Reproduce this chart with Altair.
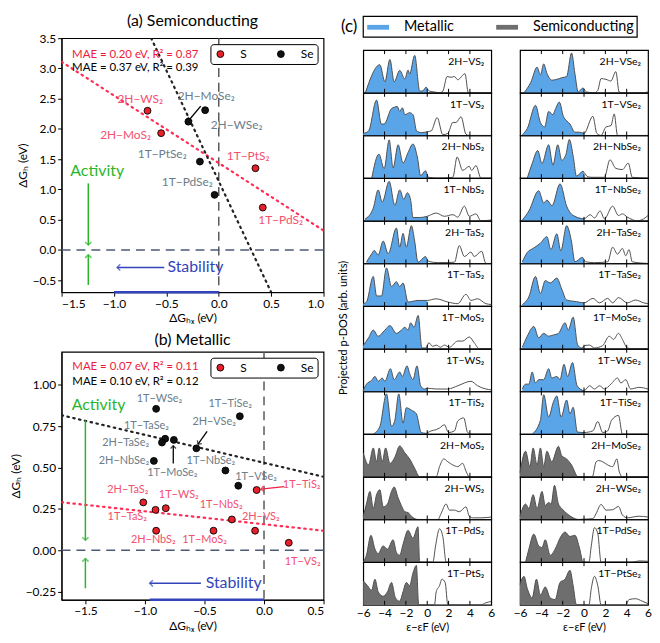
import altair as alt
import pandas as pd
import numpy as np

FONT = "Lato"
RED = "#e8202a"
RED_LBL = "#f2506e"
GRAY_LBL = "#6b7d8a"
MAE_RED = "#ee1a3c"
FIT_RED = "#ff2d55"
GREEN = "#2bb52b"
BLUE = "#3344bb"
FILL_MET = "#5aa5e8"
FILL_SEM = "#6e6e6e"
VPATH_UP = "M-1,1L0,0L1,1"

# ---------------- panel (a) Semiconducting ----------------
a_names = ["2H−WS₂", "2H−MoS₂", "1T−PtS₂", "1T−PdS₂", "2H−MoSe₂", "2H−WSe₂", "1T−PtSe₂", "1T−PdSe₂"]
a_elem = ["S", "S", "S", "S", "Se", "Se", "Se", "Se"]
a_dGHX = [-0.68, -0.55, 0.35, 0.42, -0.29, -0.13, -0.18, -0.04]
a_dGH = [2.30, 1.93, 1.35, 0.70, 2.12, 2.31, 1.46, 0.91]
a_lab_x = [-0.75, -0.89, 0.28, 0.59, -0.12, 0.17, -0.54, -0.30]
a_lab_y = [2.50, 1.90, 1.56, 0.49, 2.55, 2.06, 1.58, 1.13]
a_fit_S = ([-1.5, 1.0], [3.11, 0.32])
a_fit_Se = ([-0.645, 0.50], [3.5, -0.7])
a_mae = ["MAE = 0.20 eV, R² = 0.87", "MAE = 0.37 eV, R² = 0.39"]

# ---------------- panel (b) Metallic ----------------
b_names = ["1T−WSe₂", "1T−TiSe₂", "1T−TaSe₂", "2H−TaSe₂", "1T−MoSe₂", "2H−VSe₂", "2H−NbSe₂",
           "1T−NbSe₂", "1T−VSe₂", "1T−TiS₂", "2H−TaS₂", "1T−TaS₂", "1T−WS₂", "1T−NbS₂",
           "2H−VS₂", "2H−NbS₂", "1T−MoS₂", "1T−VS₂"]
b_elem = ["Se"] * 9 + ["S"] * 9
b_dGHX = [-0.906, -0.203, -0.83, -0.857, -0.757, -0.568, -0.925, -0.324, -0.216,
          -0.062, -1.014, -0.911, -0.825, -0.27, -0.075, -0.906, -0.424, 0.208]
b_dGH = [0.855, 0.81, 0.674, 0.651, 0.667, 0.616, 0.54, 0.482, 0.39,
         0.364, 0.289, 0.244, 0.254, 0.186, 0.118, 0.118, 0.118, 0.045]
b_lab_x = [-0.878, -0.284, -0.987, -1.162, -0.77, -0.419, -1.176, -0.446, -0.067,
           0.316, -1.144, -1.149, -0.716, -0.36, -0.027, -0.93, -0.50, 0.324]
b_lab_y = [0.913, 0.884, 0.754, 0.651, 0.467, 0.773, 0.539, 0.54, 0.444,
           0.394, 0.364, 0.20, 0.331, 0.273, 0.20, 0.06, 0.06, -0.072]
b_fit_S = ([-1.7, 0.5], [0.29, 0.118])
b_fit_Se = ([-1.7, 0.5], [0.816, 0.444])
b_mae = ["MAE = 0.07 eV, R² = 0.11", "MAE = 0.10 eV, R² = 0.12"]

# ---------------- panel (c) projected p-DOS ----------------
dos_names_S = ["2H−VS₂", "1T−VS₂", "2H−NbS₂", "1T−NbS₂", "2H−TaS₂", "1T−TaS₂", "1T−MoS₂",
               "1T−WS₂", "1T−TiS₂", "2H−MoS₂", "2H−WS₂", "1T−PdS₂", "1T−PtS₂"]
dos_names_Se = ["2H−VSe₂", "1T−VSe₂", "2H−NbSe₂", "1T−NbSe₂", "2H−TaSe₂", "1T−TaSe₂", "1T−MoSe₂",
                "1T−WSe₂", "1T−TiSe₂", "2H−MoSe₂", "2H−WSe₂", "1T−PdSe₂", "1T−PtSe₂"]
dos_kind = ["Metallic"] * 9 + ["Semiconducting"] * 4

dos_S = [
    [(-5.8, 0), (-4.44, 0.69), (-3.97, 0.27), (-3.5, 0.82), (-3.1, 0.27), (-2.58, 0.55), (-2.1, 0.34), (-1.8, 0.56),
     (-1.65, 0.46), (-1.18, 0.92), (-0.7, 0.04), (-0.4, 0.05), (-0.1, 0.14), (0.2, 0.04), (0.68, 0.02), (1.15, 0),
     (1.46, 0.04), (1.86, 0.40), (2.24, 0.38), (2.55, 0.40), (2.86, 0.32), (3.54, 0.47), (3.85, 0), (6, 0)],
    [(-6, 0.05), (-5.5, 0.11), (-4.75, 0.87), (-4.3, 0.28), (-4.04, 0.28), (-3.35, 0.66), (-2.8, 0.71), (-2.58, 0.59),
     (-2.33, 0.68), (-2.1, 0.51), (-1.65, 0.56), (-1.33, 0.51), (-1.0, 0.11), (-0.56, 0.07), (0, 0.09), (0.37, 0.11),
     (0.93, 0.44), (1.46, 0.02), (1.93, 0.05), (2.4, 0.32), (2.7, 0.32), (3.17, 0.46), (3.63, 0.03), (3.94, 0), (6, 0)],
    [(-5.2, 0), (-4.53, 0.59), (-4.04, 0.23), (-3.57, 0.94), (-3.2, 0.25), (-2.73, 0.82), (-2.27, 0.37), (-1.8, 0.63),
     (-1.34, 0.84), (-0.93, 0.52), (-0.62, 0.06), (-0.16, 0.18), (0.12, 0.02), (1.0, 0), (2.4, 0.02), (2.8, 0.52),
     (3.32, 0.19), (3.94, 0.29), (4.16, 0.19), (4.57, 0.31), (5.03, 0), (6, 0)],
    [(-5.84, 0.04), (-5.06, 0.31), (-4.6, 0.76), (-4.22, 0.46), (-3.57, 0.97), (-3.04, 0.38), (-2.58, 0.76),
     (-2.2, 0.53), (-1.86, 0.69), (-1.55, 0.50), (-1.34, 0.08), (-0.71, 0.08), (0, 0.11), (0.84, 0.19), (1.61, 0.11),
     (2.4, 0.15), (2.86, 0.09), (3.48, 0.36), (3.94, 0.11), (4.57, 0.17), (5.03, 0), (6, 0.02)],
    [(-5.7, 0.03), (-5.2, 0.24), (-4.97, 0.32), (-4.6, 0.21), (-4.13, 0.55), (-3.66, 0.24), (-2.89, 0.87),
     (-2.58, 0.40), (-2.27, 0.74), (-1.96, 0.40), (-1.49, 0.93), (-1.18, 0.55), (-0.87, 0.03), (-0.16, 0.17),
     (0.12, 0.05), (1.0, 0.02), (2.55, 0.03), (3.0, 0.44), (3.48, 0.17), (4.1, 0.28), (4.4, 0.17), (5.1, 0.30),
     (5.5, 0), (6, 0)],
    [(-6, 0.06), (-5.7, 0.10), (-5.06, 0.73), (-4.75, 0.25), (-4.29, 0.25), (-3.82, 0.94), (-3.35, 0.48),
     (-2.89, 0.60), (-2.58, 0.48), (-2.27, 0.57), (-1.8, 0.10), (-0.87, 0.14), (0, 0.14), (0.84, 0.18), (1.93, 0.10),
     (2.86, 0.06), (3.63, 0.29), (4.1, 0.14), (4.72, 0.18), (5.5, 0.06), (6, 0.04)],
    [(-6, 0.08), (-5.5, 0.27), (-5.06, 0.46), (-4.6, 0.31), (-3.97, 0.46), (-3.5, 0.57), (-2.89, 0.38), (-2.42, 0.46),
     (-2.1, 0.53), (-1.8, 0.46), (-1.55, 0.64), (-1.24, 0.53), (-0.85, 0.82), (-0.5, 0.02), (-0.1, 0.02), (0.15, 0.15),
     (0.5, 0.06), (0.84, 0.09), (1.24, 0.04), (1.61, 0.09), (2.08, 0.04), (2.86, 0.19), (3.32, 0.19), (3.94, 0.29),
     (4.4, 0.15), (4.88, 0), (6, 0)],
    [(-6, 0.02), (-5.7, 0.18), (-5.22, 0.27), (-4.9, 0.37), (-4.6, 0.25), (-4.22, 0.33), (-3.97, 0.25), (-3.45, 0.56),
     (-3.1, 0.29), (-2.58, 0.48), (-2.33, 0.37), (-1.9, 0.63), (-1.65, 0.44), (-1.34, 0.29), (-0.96, 0.63),
     (-0.62, 0.14), (-0.25, 0.06), (0, 0.08), (0.84, 0.06), (1.93, 0.06), (2.86, 0.14), (4.1, 0.25), (4.72, 0.14),
     (5.5, 0.06), (6, 0.04)],
    [(-5.06, 0), (-4.44, 0.19), (-3.82, 0.99), (-3.35, 0.19), (-3.04, 0.34), (-2.67, 0.99), (-2.27, 0.27),
     (-1.96, 0.65), (-1.49, 0.59), (-1.02, 0.50), (-0.56, 0.04), (-0.1, 0.02), (0.37, 0.08), (0.84, 0.11),
     (1.15, 0.15), (1.61, 0.23), (1.99, 0.04), (2.55, 0.08), (2.86, 0.32), (3.42, 0.40), (3.79, 0.04), (4.25, 0),
     (6, 0)],
    [(-6, 0.59), (-5.5, 0.29), (-5.06, 0.71), (-4.75, 0.37), (-4.5, 0.71), (-4.22, 0.37), (-3.9, 0.71), (-3.5, 0.33),
     (-3.04, 0.48), (-2.58, 0.76), (-2.1, 0.59), (-1.65, 0.44), (-1.18, 0.21), (-0.71, 0), (0.84, 0), (1.15, 0.25),
     (1.55, 0.44), (1.93, 0.37), (2.4, 0.29), (2.86, 0.25), (3.32, 0.33), (3.63, 0.14), (3.94, 0), (6, 0)],
    [(-6, 0.08), (-5.7, 0.38), (-5.37, 0.69), (-5.06, 0.27), (-4.75, 0.61), (-4.44, 0.73), (-4.13, 0.31),
     (-3.73, 0.38), (-3.35, 0.69), (-3.1, 0.80), (-2.73, 0.53), (-2.42, 0.34), (-2.1, 0.19), (-1.8, 0.17),
     (-1.49, 0.08), (-0.87, 0), (1.0, 0), (1.3, 0.15), (1.77, 0.38), (2.08, 0.23), (2.55, 0.23), (3.0, 0.19),
     (3.63, 0.31), (3.94, 0.08), (4.25, 0.04), (5.03, 0.04), (6, 0.06)],
    [(-6, 0), (-5.7, 0.17), (-5.28, 0.66), (-4.9, 0.32), (-4.6, 0.21), (-4.13, 0.40), (-3.73, 0.32), (-3.2, 0.55),
     (-2.89, 0.24), (-2.58, 0.17), (-2.27, 0.44), (-1.8, 0.78), (-1.34, 0.59), (-0.87, 0.87), (-0.71, 0), (0.53, 0),
     (0.78, 0.40), (1.15, 0.82), (1.46, 0.63), (1.77, 0), (6, 0)],
    [(-6, 0.59), (-5.6, 0.47), (-5.22, 0.36), (-4.9, 0.63), (-4.6, 0.32), (-4.13, 0.21), (-3.73, 0.32), (-3.35, 0.55),
     (-2.98, 0.17), (-2.58, 0.09), (-2.27, 0.32), (-1.96, 0.55), (-1.65, 0.47), (-1.34, 0.78), (-1.02, 0.97),
     (-0.8, 0), (0.68, 0), (0.84, 0.32), (1.15, 0.47), (1.37, 0.63), (1.68, 0.55), (1.93, 0), (5.03, 0),
     (5.5, 0.05), (6, 0.08)],
]

dos_Se = [
    [(-5.63, 0), (-5.0, 0.25), (-4.4, 0.63), (-4.09, 0.44), (-3.78, 0.71), (-3.48, 0.48), (-3.0, 0.31), (-2.55, 0.33),
     (-2.09, 0.37), (-1.63, 0.40), (-1.17, 0.98), (-0.86, 0.48), (-0.55, 0.02), (-0.09, 0.12), (0.22, 0.02),
     (0.98, 0), (1.29, 0.06), (1.6, 0.35), (2.06, 0.33), (2.52, 0.29), (2.98, 0.52), (3.29, 0.02), (3.6, 0),
     (5.5, 0), (6, 0.02)],
    [(-5.78, 0.02), (-5.32, 0.17), (-4.55, 0.74), (-4.09, 0.32), (-3.69, 0.21), (-3.32, 0.59), (-2.92, 0.51),
     (-2.71, 0.63), (-2.31, 0.82), (-1.94, 0.47), (-1.63, 0.36), (-1.32, 0.28), (-0.86, 0.08), (-0.4, 0.08),
     (0, 0.05), (0.83, 0.47), (1.2, 0.05), (1.6, 0), (2.06, 0.21), (2.52, 0.24), (2.83, 0.53), (3.14, 0), (6, 0)],
    [(-5.32, 0), (-4.86, 0.36), (-4.34, 0.68), (-3.94, 0.36), (-3.32, 0.82), (-2.92, 0.32), (-2.46, 0.82),
     (-2.09, 0.44), (-1.69, 0.59), (-1.38, 0.95), (-1.0, 0.51), (-0.71, 0.05), (-0.09, 0.17), (0.37, 0.03),
     (0.83, 0.02), (1.91, 0.02), (2.43, 0.45), (2.98, 0.24), (3.6, 0.21), (4.15, 0.37), (4.52, 0.02), (6, 0)],
    [(-5.78, 0.02), (-5.17, 0.24), (-4.25, 0.74), (-3.78, 0.44), (-3.48, 0.51), (-3.0, 0.37), (-2.25, 0.91),
     (-1.63, 0.36), (-1.0, 0.13), (0, 0.05), (0.58, 0.15), (0.98, 0.07), (1.51, 0.24), (1.91, 0.05), (2.68, 0.36),
     (3.23, 0.13), (3.6, 0.17), (4.06, 0.09), (4.98, 0), (5.6, 0.05), (6, 0.13)],
    [(-5.78, 0.04), (-5.32, 0.27), (-4.71, 0.38), (-4.09, 0.50), (-3.48, 0.66), (-3.11, 0.34), (-2.55, 0.73),
     (-2.18, 0.31), (-1.63, 0.93), (-1.17, 0.53), (-0.86, 0.04), (-0.15, 0.15), (0.15, 0.04), (0.98, 0.02),
     (2.22, 0.04), (2.68, 0.40), (3.14, 0.23), (3.6, 0.37), (3.91, 0.19), (4.22, 0.34), (4.52, 0.04), (6, 0)],
    [(-5.78, 0.04), (-5.17, 0.23), (-4.55, 0.73), (-4.09, 0.31), (-3.63, 0.63), (-3.17, 0.57), (-2.55, 0.69),
     (-2.09, 0.42), (-1.63, 0.15), (-0.71, 0.11), (0, 0.08), (0.83, 0.19), (1.45, 0.08), (2.22, 0.19), (2.68, 0.08),
     (3.23, 0.21), (4.06, 0.08), (4.83, 0.15), (5.6, 0.08), (6, 0.06)],
    [(-5.78, 0.04), (-5.32, 0.31), (-4.71, 0.55), (-4.25, 0.27), (-3.78, 0.38), (-3.32, 0.31), (-2.86, 0.34),
     (-2.4, 0.38), (-1.78, 0.64), (-1.48, 0.46), (-1.02, 0.78), (-0.6, 0.10), (-0.25, 0.02), (0.06, 0.08),
     (0.52, 0.09), (0.98, 0.02), (1.75, 0.08), (2.37, 0.31), (2.77, 0.23), (3.23, 0.38), (3.6, 0.23), (4.06, 0.02),
     (4.52, 0), (6, 0)],
    [(-5.78, 0.06), (-5.48, 0.18), (-5.17, 0.18), (-4.86, 0.48), (-4.55, 0.21), (-4.25, 0.29), (-3.78, 0.29),
     (-3.32, 0.56), (-3.02, 0.33), (-2.55, 0.37), (-2.25, 0.29), (-1.88, 0.67), (-1.54, 0.37), (-1.08, 0.71),
     (-0.65, 0.14), (0, 0.02), (0.52, 0.14), (0.98, 0.06), (1.45, 0.14), (1.91, 0.06), (2.52, 0.18), (3.14, 0.33),
     (3.45, 0.21), (3.91, 0.29), (4.37, 0.06), (5.14, 0.10), (6, 0.06)],
    [(-4.86, 0), (-4.09, 0.34), (-3.78, 0.97), (-3.32, 0.42), (-2.86, 0.80), (-2.55, 0.94), (-2.15, 0.42),
     (-1.63, 0.84), (-1.32, 0.50), (-1.02, 0.66), (-0.62, 0.05), (0, 0.04), (0.83, 0.08), (1.29, 0.31),
     (1.75, 0.04), (2.22, 0.08), (2.58, 0.34), (3.23, 0.46), (3.6, 0), (6, 0)],
    [(-6, 0.10), (-5.48, 0.63), (-5.08, 0.25), (-4.77, 0.71), (-4.4, 0.29), (-4.09, 0.71), (-3.78, 0.25),
     (-3.48, 0.63), (-3.02, 0.37), (-2.4, 0.75), (-2.09, 0.52), (-1.63, 0.44), (-1.17, 0.29), (-0.55, 0),
     (0.77, 0), (1.14, 0.37), (1.38, 0.40), (1.75, 0.37), (2.22, 0.29), (2.68, 0.25), (3.08, 0.44), (3.29, 0.14),
     (3.6, 0), (6, 0)],
    [(-6, 0.08), (-5.48, 0.38), (-5.17, 0.27), (-4.77, 0.61), (-4.4, 0.27), (-3.94, 0.69), (-3.63, 0.34),
     (-3.32, 0.42), (-3.08, 0.38), (-2.77, 0.84), (-2.4, 0.38), (-2.09, 0.27), (-1.63, 0.15), (-1.02, 0.04),
     (-0.5, 0), (0.83, 0.02), (1.14, 0.15), (1.6, 0.37), (2.06, 0.23), (2.68, 0.24), (3.23, 0.32), (3.6, 0.11),
     (4.06, 0.04), (5.14, 0.08), (6, 0.06)],
    [(-5.48, 0), (-5.17, 0.32), (-4.71, 0.69), (-4.25, 0.40), (-3.94, 0.36), (-3.63, 0.55), (-3.17, 0.17),
     (-2.71, 0.32), (-2.25, 0.59), (-1.78, 0.74), (-1.32, 0.63), (-0.86, 0.66), (-0.4, 0.32), (-0.09, 0),
     (0.46, 0), (0.68, 0.40), (0.98, 0.85), (1.29, 0.70), (1.6, 0), (4.52, 0), (5.14, 0.03), (6, 0.02)],
    [(-6, 0.50), (-5.63, 0.70), (-5.32, 0.40), (-4.86, 0.17), (-4.46, 0.63), (-4.09, 0.24), (-3.63, 0.44),
     (-3.17, 0.17), (-2.71, 0.13), (-2.25, 0.55), (-1.78, 0.63), (-1.32, 0.85), (-1.02, 0.47), (-0.71, 0),
     (0.46, 0), (0.68, 0.40), (0.98, 0.70), (1.29, 0.47), (1.6, 0), (3.91, 0), (4.22, 0.13), (4.83, 0.15),
     (5.45, 0.09), (6, 0.03)],
]
dos_ticks = [-4, -2, 0, 2, 4]
dos_xlabels = [-6, -4, -2, 0, 2, 4, 6]


# ================= scatter panels =================
def scatter_panel(names, elem, gx, gh, lx, ly, fit_S, fit_Se, mae, title, xdom, ydom, xticks, yticks, yfmt,
                  mae_xy, act, stab, arrows, W, H, lblsize):
    xs = alt.Scale(domain=xdom, nice=False, zero=False)
    ys = alt.Scale(domain=ydom, nice=False, zero=False)
    xax = alt.Axis(values=xticks, format=".1f", title="ΔGₕₓ (eV)", titlePadding=4)
    yax = alt.Axis(values=yticks, format=yfmt, title="ΔGₕ (eV)", titlePadding=3)

    def X(f):
        return alt.X(f, type="quantitative", scale=xs, axis=xax)

    def Y(f):
        return alt.Y(f, type="quantitative", scale=ys, axis=yax)

    pts = pd.DataFrame({"name": names, "elem": elem, "gx": gx, "gh": gh, "lx": lx, "ly": ly})
    layers = []
    layers.append(alt.Chart(pd.DataFrame({"x": [0.0]})).mark_rule(color="#5a5a5a", strokeDash=[9, 6],
                                                                     strokeWidth=1.5).encode(x=X("x")))
    layers.append(alt.Chart(pd.DataFrame({"y": [0.0]})).mark_rule(color="#4c5a78", strokeDash=[9, 6],
                                                                     strokeWidth=1.5).encode(y=Y("y")))
    for (fx, fy), col in [(fit_S, FIT_RED), (fit_Se, "#222222")]:
        layers.append(alt.Chart(pd.DataFrame({"x": fx, "y": fy})).mark_line(
            color=col, strokeDash=[1.5, 4.5], strokeWidth=2.2, strokeCap="round", clip=True
        ).encode(x=X("x"), y=Y("y")))
    mae_df = pd.DataFrame({"x": [mae_xy[0]] * 2, "y": mae_xy[1], "t": mae})
    layers.append(alt.Chart(mae_df.iloc[[0]]).mark_text(align="left", fontSize=11.5, color=MAE_RED).encode(
        x=X("x"), y=Y("y"), text="t:N"))
    layers.append(alt.Chart(mae_df.iloc[[1]]).mark_text(align="left", fontSize=11.5, color="black").encode(
        x=X("x"), y=Y("y"), text="t:N"))
    ax_, aty, ax_arrow, a_down, a_up = act
    layers.append(alt.Chart(pd.DataFrame({"x": [ax_], "y": [aty], "t": ["Activity"]})).mark_text(
        fontSize=16, color=GREEN).encode(x=X("x"), y=Y("y"), text="t:N"))
    gr = pd.DataFrame({"x": [ax_arrow, ax_arrow], "y1": [a_down[0], a_up[0]], "y2": [a_down[1], a_up[1]]})
    layers.append(alt.Chart(gr).mark_rule(color=GREEN, strokeWidth=1.5).encode(
        x=X("x"), y=Y("y1"), y2=alt.Y2("y2")))
    layers.append(alt.Chart(gr.iloc[[0]]).mark_point(shape=VPATH_UP, angle=180, size=40, color=GREEN,
                                                     strokeWidth=1.5).encode(x=X("x"), y=Y("y2")))
    layers.append(alt.Chart(gr.iloc[[1]]).mark_point(shape=VPATH_UP, angle=0, size=40, color=GREEN,
                                                     strokeWidth=1.5).encode(x=X("x"), y=Y("y2")))
    sx, sy, s_from, s_to, bot = stab
    layers.append(alt.Chart(pd.DataFrame({"x": [sx], "y": [sy], "t": ["Stability"]})).mark_text(
        align="left", fontSize=16, color=BLUE).encode(x=X("x"), y=Y("y"), text="t:N"))
    bl = pd.DataFrame({"x1": [s_from], "x2": [s_to], "y": [sy]})
    layers.append(alt.Chart(bl).mark_rule(color=BLUE, strokeWidth=1.5).encode(
        x=X("x1"), x2=alt.X2("x2"), y=Y("y")))
    layers.append(alt.Chart(bl).mark_point(shape=VPATH_UP, angle=270, size=40, color=BLUE,
                                           strokeWidth=1.5).encode(x=X("x2"), y=Y("y")))
    bb = pd.DataFrame({"x1": [bot[0]], "x2": [bot[1]], "y": [ydom[0]]})
    layers.append(alt.Chart(bb).mark_rule(color=BLUE, strokeWidth=2.5).encode(
        x=X("x1"), x2=alt.X2("x2"), y=Y("y")))
    for (x1, y1, x2, y2, col, ang) in arrows:
        adf = pd.DataFrame({"x1": [x1], "y1": [y1], "x2": [x2], "y2": [y2]})
        layers.append(alt.Chart(adf).mark_rule(color=col, strokeWidth=1.3).encode(
            x=X("x1"), y=Y("y1"), x2=alt.X2("x2"), y2=alt.Y2("y2")))
        layers.append(alt.Chart(adf).mark_point(shape=VPATH_UP, angle=ang, size=30, color=col,
                                                strokeWidth=1.3).encode(x=X("x2"), y=Y("y2")))
    layers.append(alt.Chart(pts).transform_filter("datum.elem == 'S'").mark_text(
        fontSize=lblsize, color=RED_LBL).encode(x=X("lx"), y=Y("ly"), text="name:N"))
    layers.append(alt.Chart(pts).transform_filter("datum.elem == 'Se'").mark_text(
        fontSize=lblsize, color=GRAY_LBL).encode(x=X("lx"), y=Y("ly"), text="name:N"))
    layers.append(alt.Chart(pts).mark_circle(size=48, opacity=1, stroke="black", strokeWidth=0.9).encode(
        x=X("gx"), y=Y("gh"),
        color=alt.Color("elem:N", scale=alt.Scale(domain=["S", "Se"], range=[RED, "#111111"]),
                        legend=alt.Legend(orient="top-right", direction="horizontal", title=None,
                                          strokeColor="black", fillColor="white", padding=4, cornerRadius=3,
                                          offset=6, labelFontSize=12, labelOffset=14, columnPadding=28,
                                          symbolSize=48, symbolStrokeColor="black", symbolStrokeWidth=0.9,
                                          symbolType="circle"))))
    return alt.layer(*layers).properties(
        width=W, height=H,
        title=alt.TitleParams(title, fontSize=16, fontWeight="normal", offset=3))


SW = 264
chart_a = scatter_panel(
    a_names, a_elem, a_dGHX, a_dGH, a_lab_x, a_lab_y, a_fit_S, a_fit_Se, a_mae, "(a) Semiconducting",
    [-1.5, 1.0], [-0.7, 3.5], [-1.5, -1.0, -0.5, 0.0, 0.5, 1.0], [-0.5, 0, 0.5, 1, 1.5, 2, 2.5, 3, 3.5], ".1f",
    (-1.40, [3.22, 3.0]),
    (-1.16, 1.31, -1.245, (1.10, 0.08), (-0.58, -0.08)),
    (-0.49, -0.29, -0.52, -0.97, (-1.0, 0.0)),
    [(-0.172, 2.378, -0.289, 2.135, "black", 220)],
    SW, 256, 12)

chart_b = scatter_panel(
    b_names, b_elem, b_dGHX, b_dGH, b_lab_x, b_lab_y, b_fit_S, b_fit_Se, b_mae, "(b) Metallic",
    [-1.7, 0.5], [-0.3, 1.2], [-1.5, -1.0, -0.5, 0.0, 0.5], [-0.25, 0, 0.25, 0.5, 0.75, 1.0], ".2f",
    (-1.61, [1.11, 1.02]),
    (-1.39, 0.88, -1.5, (0.785, 0.06), (-0.23, -0.05)),
    (-0.49, -0.20, -0.53, -0.96, (-0.96, 0.0)),
    [(-0.478, 0.719, -0.554, 0.641, "black", 215),
     (-0.762, 0.525, -0.762, 0.632, "black", 0),
     (0.17, 0.385, -0.027, 0.37, "#ee2244", 264)],
    SW, 250, 11)

left = alt.vconcat(chart_a, chart_b, spacing=6).resolve_scale(color="independent")

# ================= DOS panels =================
rows = []
for col, names, curves in [("L", dos_names_S, dos_S), ("R", dos_names_Se, dos_Se)]:
    for i, (name, pts) in enumerate(zip(names, curves)):
        es = [p[0] for p in pts]
        ds = [p[1] for p in pts]
        if 0 not in es:
            d0 = float(np.interp(0.0, es, ds))
            pts = sorted(pts + [(0.0, d0)])
        for j, (e, d) in enumerate(pts):
            rows.append(dict(col=col, idx=i, name=name, kind=dos_kind[i], e=e, d=d, typ="curve",
                             first=1 if j == 0 else 0))
        for t in dos_ticks:
            rows.append(dict(col=col, idx=i, name=name, kind=dos_kind[i], e=t, d=0, typ="tick", first=0))
dos_df = pd.DataFrame(rows)

DW, DH = 129, 43
CSP = 18


def dos_column(col, rowtitle):
    xs = alt.Scale(domain=[-6, 6], nice=False)
    ys = alt.Scale(domain=[0, 1.05], nice=False)
    xax = alt.Axis(values=dos_xlabels, format="d", ticks=False, domain=False, grid=False,
                   labelFontSize=12, labelPadding=3, labelFlush=False, labelOverlap=False, labelBound=False,
                   title="ε−εF (eV)", titleFontSize=11, titleFontWeight="normal", titlePadding=3)
    X = alt.X("e:Q", scale=xs, axis=xax)
    Y = alt.Y("d:Q", scale=ys, axis=None)
    base = alt.Chart()
    area_m = base.transform_filter(
        "datum.typ == 'curve' && datum.e <= 0 && datum.kind == 'Metallic'"
    ).mark_area(color=FILL_MET, interpolate="monotone", opacity=1).encode(x=X, y=Y)
    area_s = base.transform_filter(
        "datum.typ == 'curve' && datum.e <= 0 && datum.kind == 'Semiconducting'"
    ).mark_area(color=FILL_SEM, interpolate="monotone", opacity=1).encode(x=X, y=Y)
    line = base.transform_filter("datum.typ == 'curve'").mark_line(
        color="#505050", strokeWidth=1, interpolate="monotone").encode(x=X, y=Y)
    tick_b = base.transform_filter("datum.typ == 'tick'").mark_rule(color="black", strokeWidth=1).encode(
        x=X, y=alt.value(DH - 4), y2=alt.value(DH))
    tick_t = base.transform_filter("datum.typ == 'tick'").mark_rule(color="black", strokeWidth=1).encode(
        x=X, y=alt.value(0), y2=alt.value(4))
    label = base.transform_filter("datum.first == 1").mark_text(
        align="right", baseline="top", fontSize=10.5, color="black").encode(
        x=alt.value(DW - 7), y=alt.value(7), text="name:N")
    lay = alt.layer(area_m, area_s, line, tick_b, tick_t, label,
                    data=dos_df[dos_df["col"] == col]).properties(width=DW, height=DH)
    if rowtitle:
        hdr = alt.Header(labels=False, title=rowtitle, titleFontSize=11, titleFontWeight="normal",
                         titlePadding=4)
    else:
        hdr = alt.Header(labels=False, title=None)
    return lay.facet(row=alt.Row("idx:O", header=hdr), spacing=0, bounds="flush")


colL = dos_column("L", "Projected p-DOS (arb. units)")
colR = dos_column("R", None)

# legend box for (c) (drawn just above its own tiny view so it sits level with panel (a)'s title)
leg_items = ["Metallic", "Semiconducting"]
LW = 2 * DW + CSP
one = pd.DataFrame({"a": [1]})
leg_df = pd.DataFrame({"item": leg_items})
lx = alt.X("item:N", scale=alt.Scale(type="point", domain=leg_items, range=[15, 145], padding=0),
           axis=None)
leg_box = alt.Chart(one).mark_rect(fill="white", stroke="black", strokeWidth=1.2).encode(
    x=alt.value(0), x2=alt.value(LW), y=alt.value(-22), y2=alt.value(-1))
leg_c = alt.Chart(one).mark_text(fontSize=17, align="right", baseline="middle").encode(
    x=alt.value(-6), y=alt.value(-11), text=alt.value("(c)"))
leg_sw = alt.Chart(leg_df).mark_point(shape="M-1,-0.22L1,-0.22L1,0.22L-1,0.22Z", size=484, filled=True,
                                      opacity=1).encode(
    x=lx, y=alt.value(-11),
    color=alt.Color("item:N", scale=alt.Scale(domain=leg_items, range=[FILL_MET, FILL_SEM]), legend=None))
leg_tx = alt.Chart(leg_df).mark_text(align="left", baseline="middle", dx=26, fontSize=14.5).encode(
    x=lx, y=alt.value(-11), text="item:N")
legend_c = alt.layer(leg_box, leg_c, leg_sw, leg_tx).properties(
    width=LW, height=1, view=alt.ViewBackground(strokeWidth=0))

right = alt.vconcat(legend_c, alt.hconcat(colL, colR, spacing=CSP), spacing=9).resolve_scale(
    color="independent")

chart = alt.hconcat(left, right, spacing=12).resolve_scale(color="independent").properties(
    padding={"left": 0, "top": 2, "right": 0, "bottom": 0}
).configure(font=FONT).configure_view(stroke="black", strokeWidth=1.2).configure_axis(
    labelFontSize=12, titleFontSize=12, titleFontWeight="normal", labelColor="black", titleColor="black",
    tickColor="black", domainColor="black", tickSize=4, grid=False
)

chart.save("out.html", embed_options={"renderer": "svg", "actions": False})
